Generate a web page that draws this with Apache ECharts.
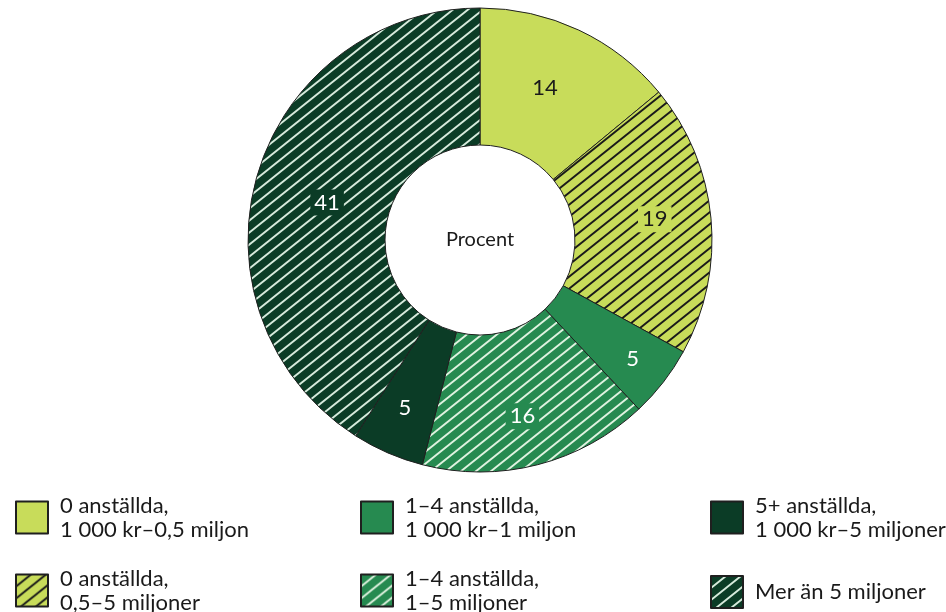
<!DOCTYPE html>
<html>
<head>
<meta charset="utf-8">
<script src="https://cdn.jsdelivr.net/npm/echarts@6/dist/echarts.min.js"></script>
<style>
  html, body { margin: 0; padding: 0; background: #fff; }
  #chart { width: 946px; height: 612px; }
</style>
</head>
<body>
<div id="chart"></div>
<script>
// Share of companies (percent) by size class
const categories = [
  '0 anställda,\n1 000 kr–0,5 miljon',
  '0 anställda,\n0,5–5 miljoner',
  '1–4 anställda,\n1 000 kr–1 miljon',
  '1–4 anställda,\n1–5 miljoner',
  '5+ anställda,\n1 000 kr–5 miljoner',
  'Mer än 5 miljoner'
];
const values = [14, 19, 5, 16, 5, 41];

// Styling per slice
const baseColors = ['#c8dc5a', '#c8dc5a', '#268a50', '#268a50', '#0b3c26', '#0b3c26'];
const hatchColors = [null, '#1a1a1a', null, '#dff2df', null, '#d6eadc'];
const labelColors = ['#1a1a1a', '#1a1a1a', '#ffffff', '#ffffff', '#ffffff', '#ffffff'];
// small nudges of the value labels away from the ring's mid-radius
const labelNudges = [[-6, -1], [9, -5], [21, 17], [1, 15], [-9, 15], [7, 9]];

const FONT = 'Lato, "DejaVu Sans", sans-serif';

// Diagonal line pattern tile (lines rising to the right)
function hatch(bg, line) {
  const w = 15, h = 12;
  const c = document.createElement('canvas');
  c.width = w; c.height = h;
  const g = c.getContext('2d');
  g.fillStyle = bg;
  g.fillRect(0, 0, w, h);
  g.strokeStyle = line;
  g.lineWidth = 1.9;
  const seg = (x0, y0) => {
    g.moveTo(x0 - w * 0.2, y0 + h * 0.2);
    g.lineTo(x0 + w * 1.2, y0 - h * 1.2);
  };
  g.beginPath();
  seg(0, h);
  seg(-w, h);
  seg(w, h);
  g.stroke();
  return { image: c, repeat: 'repeat' };
}

const pieData = categories.map((name, i) => ({
  name: name,
  value: values[i],
  itemStyle: {
    color: hatchColors[i] ? hatch(baseColors[i], hatchColors[i]) : baseColors[i]
  },
  label: {
    color: labelColors[i],
    offset: labelNudges[i],
    backgroundColor: hatchColors[i] ? baseColors[i] : 'transparent'
  }
}));

// One legend entry per block so the 3×2 grid is placed exactly
function legendAt(left, top, name) {
  return {
    orient: 'vertical',
    left: left,
    top: top,
    padding: 0,
    itemWidth: 32,
    itemHeight: 32,
    icon: 'rect',
    selectedMode: false,
    data: [name],
    textStyle: {
      fontFamily: FONT,
      fontSize: 22,
      lineHeight: 24,
      color: '#1a1a1a',
      padding: [3, 0, 0, 7]
    }
  };
}

const legendCols = [15, 360, 710];
// top offsets: two-line entries, and the single-line entry
const legendRows = [492, 565];
const singleLineTop = 575;

const chart = echarts.init(document.getElementById('chart'), null, { renderer: 'canvas' });
chart.setOption({
  animation: false,
  legend: categories.map((name, i) => {
    const top = name.indexOf('\n') < 0 ? singleLineTop : legendRows[i % 2];
    return legendAt(legendCols[Math.floor(i / 2)], top, name);
  }),
  graphic: [{
    type: 'text',
    x: 480,
    y: 240,
    style: {
      text: 'Procent',
      fontFamily: FONT,
      fontSize: 20,
      fill: '#1a1a1a',
      align: 'center',
      verticalAlign: 'middle'
    }
  }],
  series: [{
    type: 'pie',
    center: [480, 240],
    radius: [95, 232],
    startAngle: 90,
    clockwise: true,
    avoidLabelOverlap: false,
    itemStyle: { borderColor: '#1f1f1f', borderWidth: 1 },
    label: {
      show: true,
      position: 'inside',
      formatter: '{c}',
      fontFamily: FONT,
      fontSize: 22,
      padding: [2, 4]
    },
    labelLine: { show: false },
    emphasis: { disabled: true },
    data: pieData
  }]
});
</script>
</body>
</html>
